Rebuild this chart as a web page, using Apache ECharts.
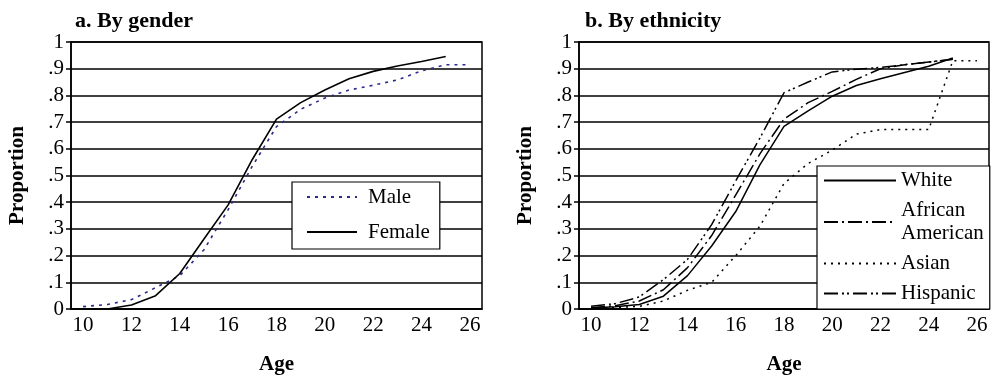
<!DOCTYPE html>
<html>
<head>
<meta charset="utf-8">
<script src="https://cdn.jsdelivr.net/npm/echarts@6/dist/echarts.min.js"></script>
<style>
html, body { margin: 0; padding: 0; background: #fff; }
#chart { width: 996px; height: 380px; }
</style>
</head>
<body>
<div id="chart"></div>
<script>
// ages on the x axis
var ages = ['10', '11', '12', '13', '14', '15', '16', '17', '18', '19', '20', '21', '22', '23', '24', '25', '26'];

// a. by gender
var male = [0.009, 0.017, 0.035, 0.08, 0.125, 0.222, 0.372, 0.535, 0.683, 0.748, 0.79, 0.82, 0.838, 0.858, 0.892, 0.915, 0.915];
var female = [0, 0, 0.015, 0.05, 0.133, 0.262, 0.39, 0.56, 0.711, 0.773, 0.82, 0.862, 0.89, 0.91, 0.927, 0.946, null];

// b. by ethnicity
var white = [0.004, 0.008, 0.017, 0.048, 0.125, 0.236, 0.365, 0.54, 0.684, 0.742, 0.797, 0.837, 0.862, 0.886, 0.909, 0.94, null];
var african = [0.005, 0.012, 0.03, 0.072, 0.155, 0.275, 0.427, 0.581, 0.711, 0.773, 0.815, 0.86, 0.9, 0.915, 0.925, 0.935, null];
var asian = [0.003, 0.005, 0.01, 0.03, 0.07, 0.1, 0.2, 0.31, 0.47, 0.545, 0.595, 0.655, 0.672, 0.672, 0.672, 0.93, 0.93];
var hispanic = [0.01, 0.02, 0.045, 0.11, 0.186, 0.316, 0.48, 0.64, 0.81, 0.85, 0.888, 0.898, 0.905, 0.915, 0.925, 0.935, null];

var serif = 'Liberation Serif';

function yLabel(v) {
	if (v == 0) return '0';
	if (v == 1) return '1';
	return '.' + Math.round(v * 10);
}

function makeX(idx) {
	return {
		type : 'category',
		gridIndex : idx,
		data : ages,
		boundaryGap : true,
		name : 'Age',
		nameLocation : 'middle',
		nameGap : 45,
		nameTextStyle : { fontFamily : serif, fontWeight : 'bold', fontSize : 21, color : '#000' },
		axisLine : { lineStyle : { color : '#000', width : 1.5 } },
		axisTick : { interval : 0, length : 6, lineStyle : { color : '#000', width : 1.5 } },
		axisLabel : { interval : 1, fontFamily : serif, fontSize : 21, color : '#000', margin : 6 },
		splitLine : { show : false }
	};
}

function makeY(idx) {
	return {
		type : 'value',
		gridIndex : idx,
		min : 0,
		max : 1,
		interval : 0.1,
		name : 'Proportion',
		nameLocation : 'middle',
		nameRotate : 90,
		nameGap : 43,
		nameTextStyle : { fontFamily : serif, fontWeight : 'bold', fontSize : 21, color : '#000' },
		axisLine : { show : true, lineStyle : { color : '#000', width : 1.5 } },
		axisTick : { show : true, length : 5, lineStyle : { color : '#000', width : 1.5 } },
		axisLabel : { formatter : yLabel, fontFamily : serif, fontSize : 21, color : '#000', margin : 7 },
		splitLine : { show : true, lineStyle : { color : '#000', width : 1.5 } }
	};
}

function line(name, data, xi, color, dash, width) {
	return {
		name : name,
		type : 'line',
		xAxisIndex : xi,
		yAxisIndex : xi,
		data : data,
		symbol : 'none',
		smooth : false,
		connectNulls : false,
		animation : false,
		lineStyle : { color : color, width : width || 1.6, type : dash },
		itemStyle : { color : color }
	};
}

var myChart = echarts.init(document.getElementById('chart'));
var option = {
	backgroundColor : '#fff',
	animation : false,
	title : [ {
		text : 'a. By gender',
		left : 70,
		top : 5,
		textStyle : { fontFamily : serif, fontWeight : 'bold', fontSize : 22, color : '#000' }
	}, {
		text : 'b. By ethnicity',
		left : 580,
		top : 5,
		textStyle : { fontFamily : serif, fontWeight : 'bold', fontSize : 22, color : '#000' }
	} ],
	grid : [ {
		left : 71, right : 514, top : 42, bottom : 68,
		show : true, borderColor : '#000', borderWidth : 1.5
	}, {
		left : 579, right : 7, top : 42, bottom : 68,
		show : true, borderColor : '#000', borderWidth : 1.5
	} ],
	xAxis : [ makeX(0), makeX(1) ],
	yAxis : [ makeY(0), makeY(1) ],
	legend : [ {
		data : [ 'Male', 'Female' ],
		orient : 'vertical',
		left : 292,
		top : 182,
		itemWidth : 50,
		itemHeight : 14,
		itemGap : 13,
		padding : [ 4, 10, 6, 14 ],
		itemStyle : { opacity : 0 },
		backgroundColor : '#fff',
		borderColor : '#000',
		borderWidth : 1.2,
		borderRadius : 0,
		textStyle : { fontFamily : serif, fontSize : 21, color : '#000', lineHeight : 22, padding : [ 0, 0, 0, 6 ] }
	}, {
		data : [ 'White', 'African\nAmerican', 'Asian', 'Hispanic' ],
		orient : 'vertical',
		left : 817,
		top : 166,
		itemWidth : 72,
		itemHeight : 14,
		itemGap : 7,
		padding : [ 3, 6, 4, 6 ],
		itemStyle : { opacity : 0 },
		backgroundColor : '#fff',
		borderColor : '#000',
		borderWidth : 1.2,
		borderRadius : 0,
		textStyle : { fontFamily : serif, fontSize : 21, color : '#000', lineHeight : 23, padding : [ 0, 0, 0, 0 ] }
	} ],
	series : [
		line('Male', male, 0, '#2b2b8c', [ 3, 5 ], 1.6),
		line('Female', female, 0, '#000', 'solid', 1.6),
		line('White', white, 1, '#000', 'solid', 1.5),
		line('African\nAmerican', african, 1, '#000', [ 14, 4, 2, 4 ], 1.5),
		line('Asian', asian, 1, '#000', [ 2, 5 ], 1.5),
		line('Hispanic', hispanic, 1, '#000', [ 14, 4, 2, 3, 2, 4 ], 1.5)
	]
};
myChart.setOption(option);
</script>
</body>
</html>
